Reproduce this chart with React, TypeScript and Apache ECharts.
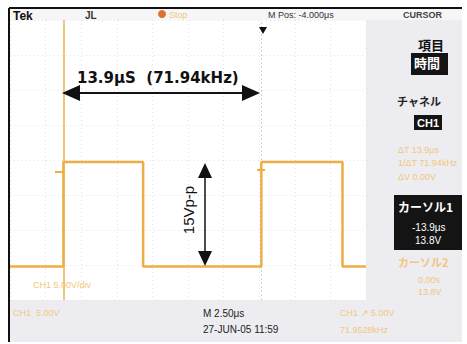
import React, { useEffect, useRef } from "react";
import * as echarts from "echarts";

// time in microseconds across the 10-division screen (2.5 us/div)
const timeTicks = [0, 2.5, 5, 7.5, 10, 12.5, 15, 17.5, 20, 22.5, 25];
// waveform edges (us) and levels (V)
const edgeTimes = [0, 3.75, 3.75, 9.35, 9.35, 17.65, 17.65, 23.35, 23.35, 25];
const edgeVolts = [-0.2, -0.2, 14.7, 14.7, -0.2, -0.2, 14.7, 14.7, -0.2, -0.2];
const cursorTimes = [3.75, 17.65];

const topTexts = ["Tek", "JL", "Stop", "M Pos: -4.000\u03bcs", "CURSOR"];
const panelTexts = ["項目", "時間", "チャネル", "CH1"];
const deltaTexts = ["\u0394T 13.9\u03bcs", "1/\u0394T 71.94kHz", "\u0394V 0.00V"];
const cursor1Texts = ["カーソル1", "-13.9\u03bcs", "13.8V"];
const cursor2Texts = ["カーソル2", "0.00s", "13.8V"];
const bottomTexts = ["CH1  5.00V", "M 2.50\u03bcs", "27-JUN-05 11:59", "CH1 \u2197 5.00V", "71.9528kHz"];

const ORANGE = "#eeae45";
const FADED = "#f2c77e";

export default function App() {
  const ref = useRef<HTMLDivElement>(null);
  useEffect(() => {
    const chart = echarts.init(ref.current!, undefined, { renderer: "svg" });
    const data = edgeTimes.map((t, i) => [t, edgeVolts[i]]);
    const font = "Liberation Sans, Arial, sans-serif";
    const cjk = "Noto Sans CJK JP, sans-serif";
    const txt = (x: number, y: number, text: string, o: any = {}) => ({
      type: "text",
      x,
      y,
      z: 20,
      style: { text, fill: "#222", font: `10px ${font}`, ...o },
    });
    const opt: any = {
      animation: false,
      backgroundColor: "#ffffff",
      grid: { left: 10, top: 20, width: 356, height: 280 },
      xAxis: {
        type: "value",
        min: timeTicks[0],
        max: timeTicks[timeTicks.length - 1],
        interval: 2.5,
        axisLine: { show: false },
        axisTick: { show: false },
        axisLabel: { show: false },
        splitLine: { show: true, lineStyle: { color: "#e2e2e8", type: [1, 3], width: 1 } },
      },
      yAxis: {
        type: "value",
        min: -5,
        max: 35,
        interval: 5,
        axisLine: { show: false },
        axisTick: { show: false },
        axisLabel: { show: false },
        splitLine: { show: true, lineStyle: { color: "#e2e2e8", type: [1, 3], width: 1 } },
      },
      series: [
        {
          type: "line",
          data,
          symbol: "none",
          lineStyle: { color: ORANGE, width: 2.5 },
          z: 5,
          markLine: {
            silent: true,
            symbol: "none",
            label: { show: false },
            data: [
              { xAxis: cursorTimes[0], lineStyle: { color: "#f3c57c", width: 2, type: "solid" } },
              { xAxis: cursorTimes[1], lineStyle: { color: "#cfcfd4", width: 1, type: [2, 2] } },
            ],
          },
        },
      ],
      graphic: [
        // right panel & bottom band backgrounds
        { type: "rect", z: 0, shape: { x: 366, y: 20, width: 96, height: 282 }, style: { fill: "#ececf1" } },
        { type: "rect", z: 0, shape: { x: 10, y: 300, width: 452, height: 42 }, style: { fill: "#ededf1" } },
        { type: "rect", z: 0, shape: { x: 10, y: 9, width: 452, height: 11 }, style: { fill: "#f6f6f8" } },
        // frame
        { type: "line", z: 30, shape: { x1: 9, y1: 8, x2: 462, y2: 8 }, style: { stroke: "#111", lineWidth: 2 } },
        { type: "line", z: 30, shape: { x1: 9, y1: 8, x2: 9, y2: 342 }, style: { stroke: "#111", lineWidth: 2 } },
        // top row
        txt(13, 10, topTexts[0], { font: `bold 12px ${font}`, fill: "#111" }),
        txt(85, 10, topTexts[1], { font: `bold 10px ${font}`, fill: "#333" }),
        { type: "circle", z: 20, shape: { cx: 162, cy: 14, r: 4 }, style: { fill: "#e07030" } },
        txt(169, 10, topTexts[2], { font: `9px ${font}`, fill: FADED }),
        txt(268, 10, topTexts[3], { font: `9px ${font}`, fill: "#333" }),
        txt(403, 10, topTexts[4], { font: `bold 9px ${font}`, fill: "#444" }),
        // trigger position marker
        { type: "polygon", z: 20, shape: { points: [[259, 27], [267, 27], [263, 34]] }, style: { fill: "#111" } },
        // level markers
        { type: "line", z: 20, shape: { x1: 55, y1: 172, x2: 63, y2: 172 }, style: { stroke: ORANGE, lineWidth: 2 } },
        { type: "line", z: 20, shape: { x1: 257, y1: 170, x2: 265, y2: 170 }, style: { stroke: ORANGE, lineWidth: 2 } },
        // right panel
        txt(418, 38, panelTexts[0], { font: `bold 13px ${cjk}`, fill: "#111" }),
        { type: "rect", z: 19, shape: { x: 411, y: 53, width: 37, height: 22 }, style: { fill: "#141414" } },
        txt(414, 56, panelTexts[1], { font: `bold 13px ${cjk}`, fill: "#fff" }),
        txt(397, 95, panelTexts[2], { font: `bold 11px ${cjk}`, fill: "#222" }),
        { type: "rect", z: 19, shape: { x: 414, y: 115, width: 28, height: 15 }, style: { fill: "#141414" } },
        txt(417, 117, panelTexts[3], { font: `bold 11px ${font}`, fill: "#fff" }),
        txt(398, 145, deltaTexts[0], { font: `9px ${font}`, fill: FADED }),
        txt(398, 158, deltaTexts[1], { font: `9px ${font}`, fill: FADED }),
        txt(398, 172, deltaTexts[2], { font: `9px ${font}`, fill: FADED }),
        { type: "rect", z: 19, shape: { x: 394, y: 195, width: 68, height: 55 }, style: { fill: "#141414" } },
        txt(398, 200, cursor1Texts[0], { font: `bold 12px ${cjk}`, fill: "#fff" }),
        txt(412, 222, cursor1Texts[1], { font: `10px ${font}`, fill: "#fff" }),
        txt(415, 235, cursor1Texts[2], { font: `10px ${font}`, fill: "#fff" }),
        txt(398, 256, cursor2Texts[0], { font: `bold 11px ${cjk}`, fill: FADED }),
        txt(418, 275, cursor2Texts[1], { font: `9px ${font}`, fill: FADED }),
        txt(418, 287, cursor2Texts[2], { font: `9px ${font}`, fill: FADED }),
        // bottom
        txt(33, 280, "CH1 5.00V/div", { font: `9px ${font}`, fill: FADED }),
        txt(13, 308, bottomTexts[0], { font: `9px ${font}`, fill: FADED }),
        txt(203, 308, bottomTexts[1], { font: `10px ${font}`, fill: "#222" }),
        txt(203, 324, bottomTexts[2], { font: `10px ${font}`, fill: "#222" }),
        txt(340, 308, bottomTexts[3], { font: `9px ${font}`, fill: FADED }),
        txt(340, 325, bottomTexts[4], { font: `9px ${font}`, fill: FADED }),
        // annotations: horizontal measurement
        txt(77, 70, "13.9\u03bcS  (71.94kHz)", { font: `bold 15px DejaVu Sans, sans-serif`, fill: "#111" }),
        { type: "line", z: 25, shape: { x1: 75, y1: 93, x2: 246, y2: 93 }, style: { stroke: "#111", lineWidth: 2 } },
        { type: "polygon", z: 25, shape: { points: [[62, 93], [80, 85], [80, 101]] }, style: { fill: "#111" } },
        { type: "polygon", z: 25, shape: { points: [[260, 93], [242, 85], [242, 101]] }, style: { fill: "#111" } },
        // vertical measurement
        { type: "line", z: 25, shape: { x1: 205, y1: 175, x2: 205, y2: 255 }, style: { stroke: "#111", lineWidth: 1.5 } },
        { type: "polygon", z: 25, shape: { points: [[205, 163], [198, 178], [212, 178]] }, style: { fill: "#111" } },
        { type: "polygon", z: 25, shape: { points: [[205, 266], [198, 251], [212, 251]] }, style: { fill: "#111" } },
        {
          type: "text",
          z: 25,
          x: 188,
          y: 210,
          rotation: Math.PI / 2,
          style: { text: "15Vp-p", fill: "#111", font: `15px ${font}`, align: "center", verticalAlign: "middle" },
        },
      ],
    };
    chart.setOption(opt);
    return () => chart.dispose();
  }, []);
  return <div ref={ref} style={{ position: "fixed", left: 0, top: 0, width: 467, height: 344 }} />;
}
